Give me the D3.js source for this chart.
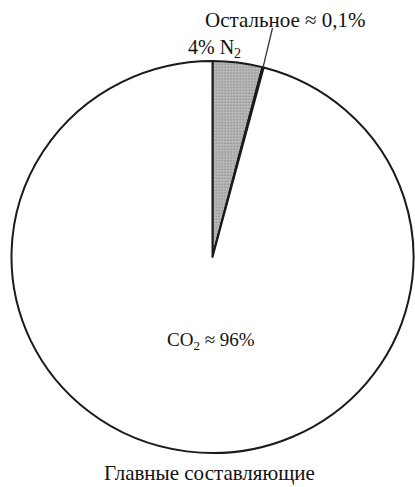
<!DOCTYPE html>
<html>
<head>
<meta charset="utf-8">
<script src="https://cdn.jsdelivr.net/npm/d3@7"></script>
<style>
  html, body { margin: 0; padding: 0; background: #fff; }
  svg { display: block; }
  text { font-family: "Liberation Serif", "Times New Roman", serif; fill: #111; }
</style>
</head>
<body>
<svg id="chart" width="415" height="487"></svg>
<script>
// Main constituents of the atmosphere, clockwise from 12 o'clock
const components = ["N2", "other", "CO2"];
const shares = [4, 0.1, 96];
const fills = ["#ababab", "#ffffff", "#ffffff"];
const title = "Главные составляющие";

const svg = d3.select("#chart");
const cx = 212.5, cy = 257, rx = 201, ry = 196;

const pie = d3.pie().sort(null).value(d => d.value);
const arcs = pie(components.map((c, i) => ({ name: c, value: shares[i], fill: fills[i] })));
const arc = d3.arc().innerRadius(0).outerRadius(rx);

const g = svg.append("g")
  .attr("transform", `translate(${cx},${cy}) scale(1,${ry / rx})`);

// stippled fill for the nitrogen slice
const defs = svg.append("defs");
const pat = defs.append("pattern")
  .attr("id", "stipple").attr("patternUnits", "userSpaceOnUse")
  .attr("width", 3).attr("height", 3);
pat.append("rect").attr("width", 3).attr("height", 3).attr("fill", "#b0b0b0");
pat.append("rect").attr("x", 0).attr("y", 0).attr("width", 1).attr("height", 1).attr("fill", "#888");
pat.append("rect").attr("x", 2).attr("y", 1).attr("width", 1).attr("height", 1).attr("fill", "#cfcfcf");

g.selectAll("path.slice")
  .data(arcs)
  .join("path")
  .attr("class", "slice")
  .attr("d", arc)
  .attr("fill", d => d.data.name === "N2" ? "url(#stipple)" : d.data.fill)
  .attr("stroke", "#1a1a1a")
  .attr("stroke-width", 2)
  .attr("stroke-linejoin", "round")
  .attr("vector-effect", "non-scaling-stroke");

// leader from the thin "other" slice to its label
const other = arcs.find(d => d.data.name === "other");
const mid = (other.startAngle + other.endAngle) / 2;
const ex = cx + Math.sin(mid) * rx;
const ey = cy - Math.cos(mid) * ry;
svg.append("line")
  .attr("x1", ex).attr("y1", ey)
  .attr("x2", 272.5).attr("y2", 28)
  .attr("stroke", "#333").attr("stroke-width", 1.3);

// labels
const fmt = v => String(v).replace(".", ",");

svg.append("text")
  .attr("x", 205).attr("y", 27)
  .attr("font-size", 21)
  .text(`Остальное ≈ ${fmt(shares[1])}%`);

const n2 = svg.append("text").attr("x", 188).attr("y", 54).attr("font-size", 20);
n2.append("tspan").text(`${shares[0]}% N`);
n2.append("tspan").attr("font-size", 14).attr("dy", 4).text("2");

const co2 = svg.append("text").attr("x", 167).attr("y", 346).attr("font-size", 19);
co2.append("tspan").text("CO");
co2.append("tspan").attr("font-size", 13).attr("dy", 4).text("2");
co2.append("tspan").attr("dy", -4).text(` ≈ ${shares[2]}%`);

svg.append("text")
  .attr("x", 209.5).attr("y", 480)
  .attr("text-anchor", "middle")
  .attr("font-size", 21)
  .text(title);
</script>
</body>
</html>
